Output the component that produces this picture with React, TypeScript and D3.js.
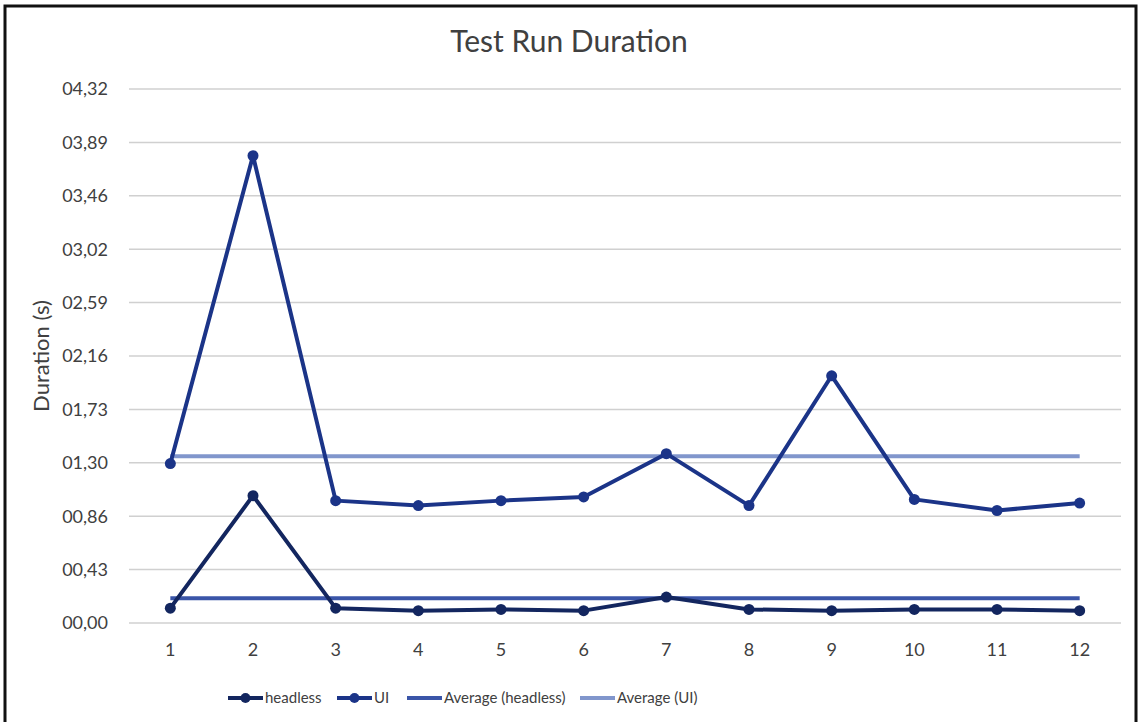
import { useRef, useEffect } from "react";
import * as d3 from "d3";

const runs = ["1", "2", "3", "4", "5", "6", "7", "8", "9", "10", "11", "12"];
const headless = [0.12, 1.03, 0.12, 0.1, 0.11, 0.1, 0.21, 0.11, 0.1, 0.11, 0.11, 0.1];
const ui = [1.29, 3.78, 0.99, 0.95, 0.99, 1.02, 1.37, 0.95, 2.0, 1.0, 0.91, 0.97];
const avgHeadless = 0.2;
const avgUi = 1.35;
const yTicks = [0, 0.432, 0.864, 1.296, 1.728, 2.16, 2.592, 3.024, 3.456, 3.888, 4.32];
const yTickLabels = ["00,00", "00,43", "00,86", "01,30", "01,73", "02,16", "02,59", "03,02", "03,46", "03,89", "04,32"];

export default function App() {
  const ref = useRef<HTMLDivElement>(null);

  useEffect(() => {
    if (!ref.current) return;
    d3.select(ref.current).selectAll("*").remove();

    const width = 1141;
    const height = 722;
    const margin = { top: 89, right: 20, bottom: 99, left: 129 };
    const font = "Lato, 'Open Sans', sans-serif";

    const svg = d3
      .select(ref.current)
      .append("svg")
      .attr("width", width)
      .attr("height", height)
      .style("position", "absolute")
      .style("left", 0)
      .style("top", 0)
      .style("font-family", font);

    svg.append("rect").attr("width", width).attr("height", height).attr("fill", "#fff");

    // outer frame
    svg
      .append("rect")
      .attr("x", 5)
      .attr("y", 6)
      .attr("width", 1131)
      .attr("height", 740)
      .attr("fill", "none")
      .attr("stroke", "#111")
      .attr("stroke-width", 3);

    const x = d3
      .scaleBand()
      .domain(runs)
      .range([margin.left, width - margin.right]);
    const cx = (d: string) => (x(d) ?? 0) + x.bandwidth() / 2;

    const y = d3
      .scaleLinear()
      .domain([0, 4.32])
      .range([height - margin.bottom, margin.top]);

    // gridlines
    svg
      .append("g")
      .selectAll("line")
      .data(yTicks)
      .enter()
      .append("line")
      .attr("x1", margin.left)
      .attr("x2", width - margin.right)
      .attr("y1", (d) => y(d))
      .attr("y2", (d) => y(d))
      .attr("stroke", "#d0d0d0")
      .attr("stroke-width", 1.5);

    // y tick labels
    svg
      .append("g")
      .selectAll("text")
      .data(yTicks)
      .enter()
      .append("text")
      .attr("x", 108)
      .attr("y", (d) => y(d))
      .attr("dy", "0.35em")
      .attr("text-anchor", "end")
      .attr("font-size", "18px")
      .attr("fill", "#404040")
      .text((d, i) => yTickLabels[i]);

    // x tick labels
    svg
      .append("g")
      .selectAll("text")
      .data(runs)
      .enter()
      .append("text")
      .attr("x", (d) => cx(d))
      .attr("y", 650)
      .attr("dy", "0.35em")
      .attr("text-anchor", "middle")
      .attr("font-size", "18px")
      .attr("fill", "#404040")
      .text((d) => d);

    // title
    svg
      .append("text")
      .attr("x", 569)
      .attr("y", 41)
      .attr("dy", "0.35em")
      .attr("text-anchor", "middle")
      .attr("font-size", "30px")
      .attr("fill", "#404040")
      .text("Test Run Duration");

    // y axis title
    svg
      .append("text")
      .attr("transform", `translate(41,${y(2.16)}) rotate(-90)`)
      .attr("dy", "0.35em")
      .attr("text-anchor", "middle")
      .attr("font-size", "22px")
      .attr("fill", "#404040")
      .text("Duration (s)");

    const colors = {
      headless: "#13265f",
      ui: "#1b3488",
      avgHeadless: "#3a55a8",
      avgUi: "#8196cc",
    };

    // average lines
    const first = runs[0];
    const last = runs[runs.length - 1];
    [
      { v: avgUi, c: colors.avgUi },
      { v: avgHeadless, c: colors.avgHeadless },
    ].forEach((a) => {
      svg
        .append("line")
        .attr("x1", cx(first))
        .attr("x2", cx(last))
        .attr("y1", y(a.v))
        .attr("y2", y(a.v))
        .attr("stroke", a.c)
        .attr("stroke-width", 4);
    });

    const line = d3
      .line<number>()
      .x((d, i) => cx(runs[i]))
      .y((d) => y(d));

    [
      { data: ui, c: colors.ui },
      { data: headless, c: colors.headless },
    ].forEach((s) => {
      svg
        .append("path")
        .datum(s.data)
        .attr("d", line)
        .attr("fill", "none")
        .attr("stroke", s.c)
        .attr("stroke-width", 4)
        .attr("stroke-linejoin", "round");
      svg
        .append("g")
        .selectAll("circle")
        .data(s.data)
        .enter()
        .append("circle")
        .attr("cx", (d, i) => cx(runs[i]))
        .attr("cy", (d) => y(d))
        .attr("r", 5.5)
        .attr("fill", s.c);
    });

    // legend
    const legendItems = [
      { label: "headless", c: colors.headless, marker: true, x: 228 },
      { label: "UI", c: colors.ui, marker: true, x: 337 },
      { label: "Average (headless)", c: colors.avgHeadless, marker: false, x: 407 },
      { label: "Average (UI)", c: colors.avgUi, marker: false, x: 580 },
    ];
    const ly = 698;
    const legend = svg.append("g");
    legendItems.forEach((it) => {
      legend
        .append("line")
        .attr("x1", it.x)
        .attr("x2", it.x + 35)
        .attr("y1", ly)
        .attr("y2", ly)
        .attr("stroke", it.c)
        .attr("stroke-width", 4);
      if (it.marker) {
        legend
          .append("circle")
          .attr("cx", it.x + 17.5)
          .attr("cy", ly)
          .attr("r", 5)
          .attr("fill", it.c);
      }
      legend
        .append("text")
        .attr("x", it.x + 37)
        .attr("y", ly)
        .attr("dy", "0.35em")
        .attr("font-size", "15px")
        .attr("fill", "#404040")
        .text(it.label);
    });
  }, []);

  return <div ref={ref}></div>;
}
